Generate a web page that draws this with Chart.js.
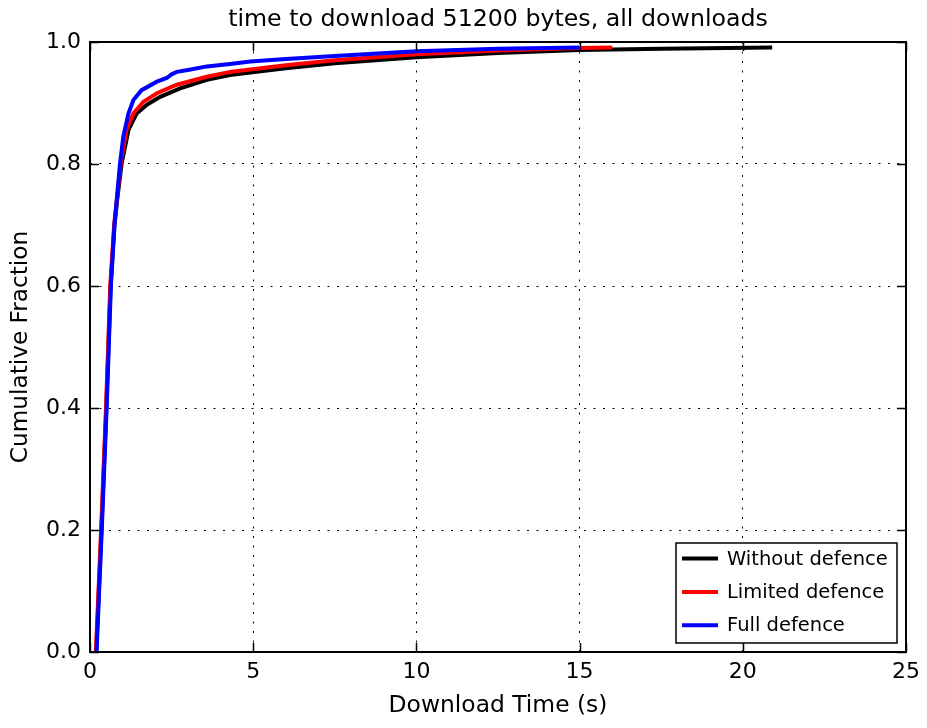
<!DOCTYPE html>
<html>
<head>
<meta charset="utf-8">
<script src="https://cdn.jsdelivr.net/npm/chart.js@4.4.1/dist/chart.umd.min.js"></script>
<style>
html,body{margin:0;padding:0;background:#fff;}
canvas{display:block;}
</style>
</head>
<body>
<canvas id="c" width="927" height="728"></canvas>
<script>
// ---- data ----
const titleText = 'time to download 51200 bytes, all downloads';
const xLabel = 'Download Time (s)';
const yLabel = 'Cumulative Fraction';
const seriesLabels = ['Without defence', 'Limited defence', 'Full defence'];
const seriesColors = ['#000000', '#ff0000', '#0000ff'];

const withoutX = [0.19, 0.35, 0.50, 0.63, 0.75, 0.83, 0.97, 1.18, 1.43, 1.74, 2.15, 2.76, 3.58, 4.29, 4.91, 6.0, 7.5, 10.0, 12.5, 15.0, 17.5, 20.9];
const withoutY = [0.0, 0.2, 0.4, 0.6, 0.7, 0.74, 0.801, 0.856, 0.883, 0.897, 0.910, 0.924, 0.938, 0.946, 0.950, 0.957, 0.965, 0.975, 0.982, 0.987, 0.989, 0.991];

const limitedX = [0.18, 0.34, 0.49, 0.62, 0.74, 0.82, 0.94, 1.12, 1.33, 1.64, 2.05, 2.66, 3.58, 4.29, 4.91, 6.0, 7.5, 10.0, 12.5, 15.0, 16.0];
const limitedY = [0.0, 0.2, 0.4, 0.6, 0.7, 0.74, 0.801, 0.856, 0.883, 0.902, 0.916, 0.930, 0.943, 0.951, 0.955, 0.962, 0.970, 0.980, 0.986, 0.990, 0.991];

const fullX = [0.20, 0.36, 0.51, 0.64, 0.75, 0.82, 0.92, 1.02, 1.18, 1.33, 1.58, 2.05, 2.35, 2.50, 2.66, 3.00, 3.58, 4.29, 4.91, 6.0, 7.5, 10.0, 12.5, 15.0];
const fullY = [0.0, 0.2, 0.4, 0.6, 0.7, 0.741, 0.801, 0.845, 0.883, 0.905, 0.921, 0.935, 0.941, 0.947, 0.951, 0.954, 0.960, 0.964, 0.968, 0.972, 0.977, 0.985, 0.989, 0.991];

const xTicks = [0, 5, 10, 15, 20, 25];
const yTicks = [0.0, 0.2, 0.4, 0.6, 0.8, 1.0];

function pts(xs, ys) { return xs.map((x, i) => ({x: x, y: ys[i]})); }

const FONT = '"DejaVu Sans", sans-serif';

const frameTicksLegend = {
  id: 'frameTicksLegend',
  afterDraw(chart) {
    const ctx = chart.ctx;
    const a = chart.chartArea;
    const xs = chart.scales.x, ys = chart.scales.y;
    const TL = 9;
    ctx.save();
    ctx.strokeStyle = '#000';
    ctx.lineWidth = 1.5;
    ctx.beginPath();
    xs.ticks.forEach(t => {
      const p = Math.round(xs.getPixelForValue(t.value)) + 0.5;
      ctx.moveTo(p, a.bottom); ctx.lineTo(p, a.bottom - TL);
      ctx.moveTo(p, a.top); ctx.lineTo(p, a.top + TL);
    });
    ys.ticks.forEach(t => {
      const p = Math.round(ys.getPixelForValue(t.value)) + 0.5;
      ctx.moveTo(a.left, p); ctx.lineTo(a.left + TL, p);
      ctx.moveTo(a.right, p); ctx.lineTo(a.right - TL, p);
    });
    ctx.stroke();
    // frame
    ctx.lineWidth = 2;
    ctx.strokeRect(a.left, a.top, a.right - a.left, a.bottom - a.top);

    // legend (lower right)
    const w = 221, h = 100;
    const lx = a.right - 9 - w, ly = a.bottom - 9 - h;
    ctx.fillStyle = '#fff';
    ctx.fillRect(lx, ly, w, h);
    ctx.lineWidth = 1.5;
    ctx.strokeStyle = '#000';
    ctx.strokeRect(lx, ly, w, h);
    ctx.font = '19.5px ' + FONT;
    ctx.textBaseline = 'middle';
    ctx.textAlign = 'left';
    chart.data.datasets.forEach((ds, i) => {
      const yy = ly + 15.5 + i * 33.4;
      ctx.strokeStyle = ds.borderColor;
      ctx.lineWidth = 4;
      ctx.beginPath();
      ctx.moveTo(lx + 6, yy); ctx.lineTo(lx + 42, yy);
      ctx.stroke();
      ctx.fillStyle = '#000';
      ctx.fillText(ds.label, lx + 51, yy + 1);
    });
    ctx.restore();
  }
};

const seriesX = [withoutX, limitedX, fullX];
const seriesY = [withoutY, limitedY, fullY];

new Chart(document.getElementById('c'), {
  type: 'scatter',
  data: {
    datasets: seriesLabels.map((lab, i) => ({
      label: lab,
      data: pts(seriesX[i], seriesY[i]),
      showLine: true,
      borderColor: seriesColors[i],
      backgroundColor: seriesColors[i],
      borderWidth: 4,
      pointRadius: 0,
      tension: 0,
      fill: false,
      order: seriesLabels.length - i
    }))
  },
  options: {
    responsive: false,
    animation: false,
    events: [],
    layout: { padding: { left: 0, right: 21, top: 0, bottom: 0 } },
    plugins: {
      legend: { display: false },
      tooltip: { enabled: false },
      title: {
        display: true,
        fullSize: false,
        text: titleText,
        color: '#000',
        font: { family: FONT, size: 23.7, weight: 'normal', lineHeight: 1.2 },
        padding: { top: 5.6, bottom: 42 - 5.6 - 23.7 * 1.2 }
      }
    },
    scales: {
      x: {
        type: 'linear',
        min: 0, max: 25,
        afterFit: s => { s.height = 76; },
        afterBuildTicks: s => { s.ticks = xTicks.map(v => ({value: v})); },
        ticks: {
          color: '#000',
          font: { family: FONT, size: 22 },
          padding: 7,
          maxRotation: 0,
          callback: v => String(v)
        },
        grid: { color: '#000', lineWidth: 1, drawTicks: false },
        border: { display: false, dash: [2, 7.5] },
        title: {
          display: true, text: xLabel, color: '#000',
          font: { family: FONT, size: 23.4, lineHeight: 1.2 },
          padding: { top: 0, bottom: 7.8 }
        }
      },
      y: {
        type: 'linear',
        min: 0, max: 1,
        afterFit: s => { s.width = 90; },
        afterBuildTicks: s => { s.ticks = yTicks.map(v => ({value: v})); },
        ticks: {
          color: '#000',
          font: { family: FONT, size: 22 },
          padding: 9,
          callback: v => Number(v).toFixed(1)
        },
        grid: { color: '#000', lineWidth: 1, drawTicks: false },
        border: { display: false, dash: [2, 7.5] },
        title: {
          display: true, text: yLabel, color: '#000',
          font: { family: FONT, size: 23.2, lineHeight: 1.2 },
          padding: { top: 7, bottom: 0 }
        }
      }
    }
  },
  plugins: [frameTicksLegend]
});
</script>
</body>
</html>
